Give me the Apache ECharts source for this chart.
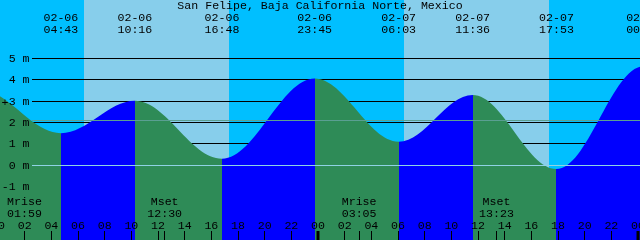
<!DOCTYPE html>
<html><head><meta charset="utf-8">
<script src="https://cdn.jsdelivr.net/npm/echarts@6/dist/echarts.min.js"></script>
<style>html,body{margin:0;padding:0;background:#00BFFF}#c{width:640px;height:240px}</style>
</head><body><div id="c"></div>
<script>
// ---- data (first and last extremes are off-chart estimates) ----
const chartTitle = 'San Felipe, Baja California Norte, Mexico';
const tideDates   = ['02-05','02-05','02-06','02-06','02-06','02-06','02-07','02-07','02-07','02-08','02-08'];
const tideTimes   = ['16:20','22:30','04:43','10:16','16:48','23:45','06:03','11:36','17:53','00:25','06:40'];
const tideHeights = [0.6, 3.55, 1.48, 3.0, 0.28, 4.04, 1.08, 3.27, -0.2, 4.62, 1.0];
const sunDates  = ['02-06','02-07'];
const sunrises  = ['06:27','06:27'];
const sunsets   = ['17:20','17:20'];
const moonDates  = ['02-06','02-06','02-07','02-07'];
const moonEvents = ['Mrise','Mset','Mrise','Mset'];
const moonTimes  = ['01:59','12:30','03:05','13:23'];
const levelValues = [-1, 0, 1, 2, 3, 4, 5];
const levelLabels = ['-1 m','0 m','1 m','2 m','3 m','4 m','5 m'];
const datumLevel = 0;
const meanLevel = 2.1;
const hourTicks  = [0,2,4,6,8,10,12,14,16,18,20,22,24,26,28,30,32,34,36,38,40,42,44,46,48];
const hourLabels = ['00','02','04','06','08','10','12','14','16','18','20','22','00','02','04','06','08','10','12','14','16','18','20','22','00'];

// ---- helpers ----
function toHours(d, t) {
  const day = parseInt(d.slice(3), 10);
  const p = t.split(':');
  return (day - 6) * 24 + parseInt(p[0], 10) + parseInt(p[1], 10) / 60;
}
const X_MIN = 0.15, X_MAX = 48.15;
const Y_MIN = -3.525, Y_MAX = 7.725;
const FONT = '11.6px "Liberation Mono", "DejaVu Sans Mono", monospace';
const NIGHT = '#00BFFF', DAY = '#87CEEB', FLOOD = '#0000FF', EBB = '#2E8B57';

const tideX = tideDates.map((d, i) => toHours(d, tideTimes[i]));
const sunData = sunDates.map((d, i) => [toHours(d, sunrises[i]), toHours(d, sunsets[i])]);
const moonX = moonDates.map((d, i) => toHours(d, moonTimes[i]));

function txt(x, y, s, align) {
  return { type: 'text', x: x, y: y, silent: true,
    style: { text: s, fill: '#000', font: FONT, align: align || 'center', verticalAlign: 'middle',
             textAlign: align || 'center', textVerticalAlign: 'middle' } };
}

// rising = flood (blue), falling = ebb (green)
const pieces = [{ lt: tideX[0], color: EBB }];
for (let i = 0; i < tideX.length - 1; i++) {
  pieces.push({ gte: tideX[i], lt: tideX[i + 1], color: tideHeights[i + 1] > tideHeights[i] ? FLOOD : EBB });
}
pieces.push({ gte: tideX[tideX.length - 1], color: FLOOD });

const titleGraphic = txt(320, 5.5, chartTitle);
titleGraphic.z = 100;
const plusGraphic = txt(5, 102.5, '+');
plusGraphic.z = 100;

const chart = echarts.init(document.getElementById('c'), null, { renderer: 'canvas' });
chart.setOption({
  animation: false,
  backgroundColor: NIGHT,
  grid: { left: 0, right: 0, top: 0, bottom: 0 },
  xAxis: { type: 'value', min: X_MIN, max: X_MAX, show: false },
  yAxis: { type: 'value', min: Y_MIN, max: Y_MAX, show: false },
  visualMap: { type: 'piecewise', show: false, dimension: 0, seriesIndex: 2, pieces: pieces },
  graphic: { elements: [titleGraphic, plusGraphic] },
  series: [
    { // daylight bands
      type: 'custom', z: 1, silent: true, data: sunData,
      renderItem: (p, api) => {
        const a = api.coord([api.value(0), Y_MAX]);
        const b = api.coord([api.value(1), Y_MIN]);
        const x0 = Math.round(a[0]), x1 = Math.round(b[0]);
        return { type: 'rect', shape: { x: x0, y: a[1], width: x1 - x0, height: b[1] - a[1] }, style: { fill: DAY } };
      }
    },
    { // meter lines
      type: 'custom', z: 2, silent: true, data: levelValues.map(v => [X_MIN, v]),
      renderItem: (p, api) => {
        const y = Math.round(api.coord([X_MIN, api.value(1)])[1]) + 0.5;
        return { type: 'line', shape: { x1: 32, y1: y, x2: p.coordSys.x + p.coordSys.width, y2: y }, style: { stroke: '#000', lineWidth: 1 } };
      }
    },
    { // tide curve
      type: 'line', z: 3, silent: true,
      data: tideX.map((x, i) => [x, tideHeights[i]]),
      smooth: 0.36, smoothMonotone: 'x',
      showSymbol: false, symbol: 'none',
      lineStyle: { width: 0 },
      areaStyle: { opacity: 1, origin: 'start' }
    },
    { // datum and mean level lines
      type: 'custom', z: 4, silent: true, data: [[X_MIN, datumLevel], [X_MIN, meanLevel]],
      renderItem: (p, api) => {
        const y = Math.round(api.coord([X_MIN, api.value(1)])[1]) + 0.5;
        return { type: 'line', shape: { x1: 32, y1: y, x2: p.coordSys.x + p.coordSys.width, y2: y },
          style: { stroke: p.dataIndex === 0 ? '#8fd2e4' : '#5a9f92', lineWidth: 1 } };
      }
    },
    { // level labels
      type: 'custom', z: 6, silent: true, data: levelValues.map(v => [X_MIN, v]),
      renderItem: (p, api) => {
        const y = Math.round(api.coord([X_MIN, api.value(1)])[1]) + 0.5;
        return txt(29.5, y, levelLabels[p.dataIndex], 'right');
      }
    },
    { // high/low labels
      type: 'custom', z: 6, silent: true, data: tideX.map((x, i) => [x, tideHeights[i]]),
      renderItem: (p, api) => {
        const x = api.coord([api.value(0), 0])[0];
        return { type: 'group', children: [
          txt(x, 18, tideDates[p.dataIndex]),
          txt(x, 29.5, tideTimes[p.dataIndex])
        ] };
      }
    },
    { // moon events
      type: 'custom', z: 6, silent: true, data: moonX.map(x => [x, 0]),
      renderItem: (p, api) => {
        const x = api.coord([api.value(0), 0])[0];
        const tx = Math.floor(x) + 0.5;
        return { type: 'group', children: [
          txt(x, 202, moonEvents[p.dataIndex]),
          txt(x, 213.5, moonTimes[p.dataIndex]),
          { type: 'line', shape: { x1: tx, y1: 231, x2: tx, y2: 240 }, style: { stroke: '#000', lineWidth: 1 } }
        ] };
      }
    },
    { // hour ticks and labels
      type: 'custom', z: 6, silent: true, data: hourTicks.map(h => [h, 0]),
      renderItem: (p, api) => {
        const h = api.value(0);
        const x = api.coord([h, 0])[0];
        const tx = Math.floor(x) + 0.5;
        const tick = (h % 24 === 0)
          ? { type: 'rect', shape: { x: Math.round(x) - 1.5, y: 231, width: 3, height: 9 }, style: { fill: '#000' } }
          : { type: 'line', shape: { x1: tx, y1: 231, x2: tx, y2: 240 }, style: { stroke: '#000', lineWidth: 1 } };
        return { type: 'group', children: [ txt(x, 226, hourLabels[p.dataIndex]), tick ] };
      }
    }
  ]
});
</script>
</body></html>
